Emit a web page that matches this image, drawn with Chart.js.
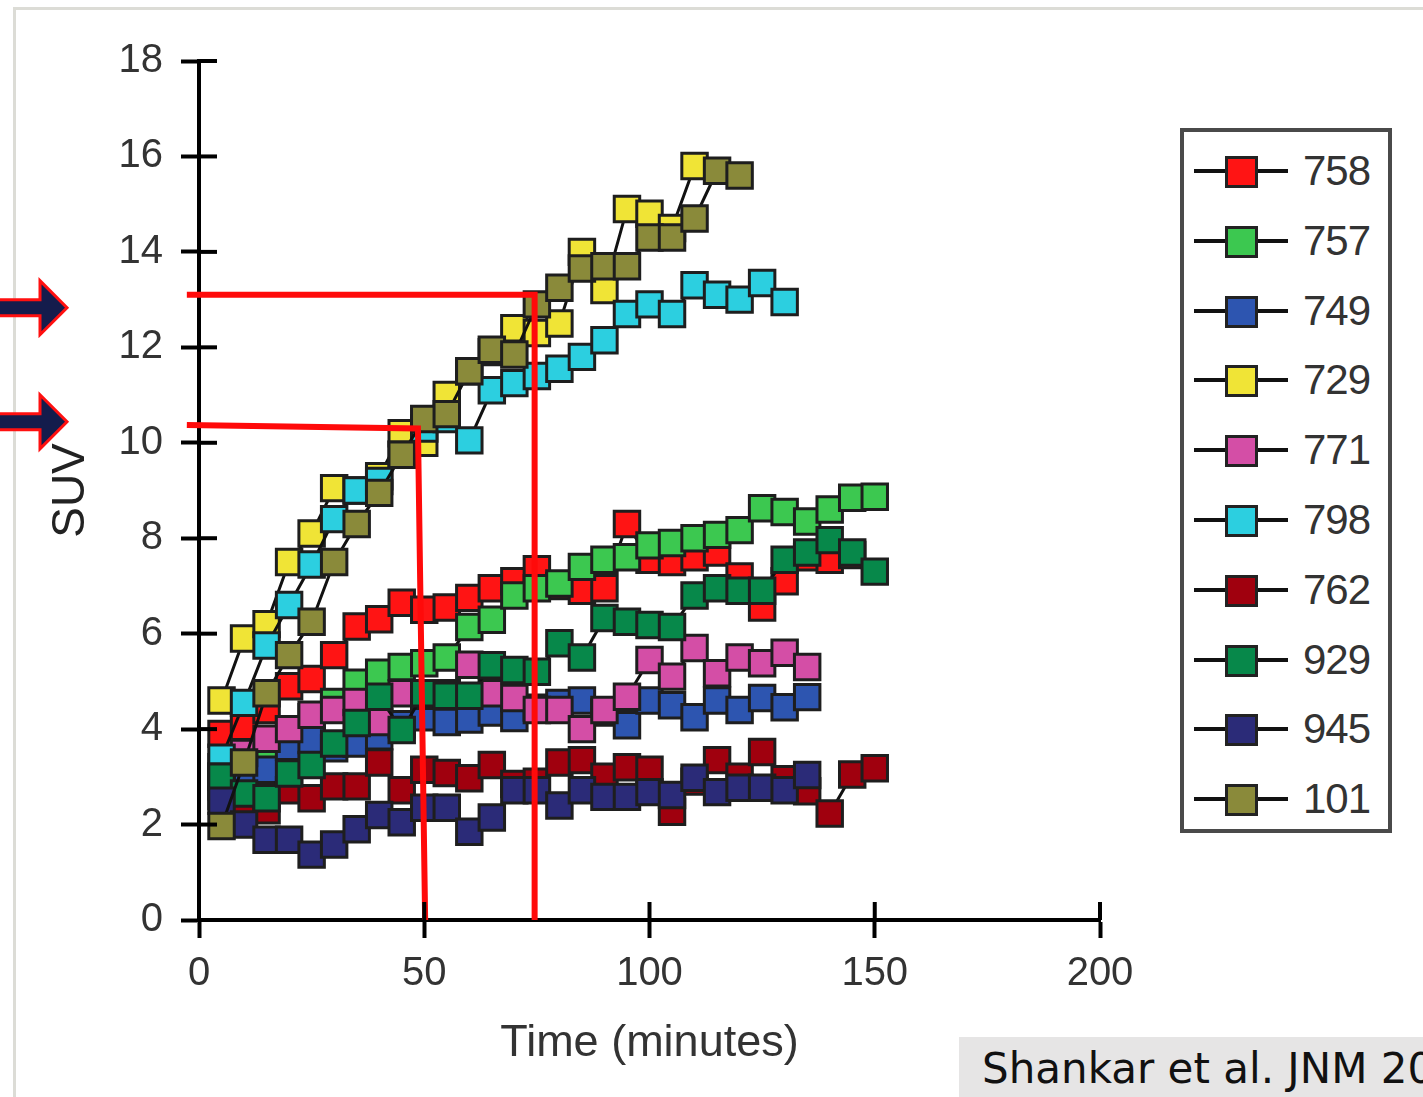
<!DOCTYPE html>
<html>
<head>
<meta charset="utf-8">
<script src="https://cdn.jsdelivr.net/npm/chart.js@4/dist/chart.umd.min.js"></script>
<style>
  html, body { margin: 0; padding: 0; background: #fff; }
  body { width: 1423px; height: 1097px; position: relative; overflow: hidden; font-family: 'Liberation Sans', Arial, sans-serif; }
  #frame { position: absolute; left: 13px; top: 7px; right: -10px; bottom: -10px; border-top: 3px solid #dcdcd6; border-left: 3px solid #dcdcd6; }
  #wrap { position: absolute; left: 0; top: 0; width: 1423px; height: 1097px; }
  #legend { position: absolute; left: 1180px; top: 128px; width: 204px; height: 697px; border: 4px solid #4a4a4a; background: #fff; }
  .item { position: absolute; left: 0; width: 204px; height: 40px; }
  .item .ln { position: absolute; left: 10px; top: 18px; width: 94px; height: 4px; background: #111; }
  .item .mk { position: absolute; left: 41px; top: 5px; width: 27px; height: 26px; border: 3px solid #222; }
  .item .tx { position: absolute; left: 119px; top: -4px; font-size: 42px; color: #333; letter-spacing: -1px; }
  #source { position: absolute; left: 959px; top: 1037px; width: 480px; height: 70px; background: #e6e5e5; overflow: hidden; }
  #source span { position: absolute; left: 23px; top: 7px; font-family: 'DejaVu Sans', sans-serif; font-size: 42px; color: #111; white-space: nowrap; }
</style>
</head>
<body>
<div id="frame"></div>
<div id="wrap"><canvas id="chart"></canvas></div>
<div id="legend"></div>
<div id="source"><span>Shankar et al. JNM 20</span></div>
<script>
const minutes = [5, 10, 15, 20, 25, 30, 35, 40, 45, 50, 55, 60, 65, 70, 75, 80, 85, 90, 95, 100, 105, 110, 115, 120, 125, 130, 135, 140, 145, 150];
const xTicks = [0, 50, 100, 150, 200];
const yTicks = [0, 2, 4, 6, 8, 10, 12, 14, 16, 18];

const names = ['758', '757', '749', '729', '771', '798', '762', '929', '945', '101'];
const fills = ['#ff1414', '#3cc850', '#2d55b0', '#f0e436', '#d44ea6', '#2ccfe0', '#a0000e', '#07884a', '#2b2b78', '#8a8a3a'];

const suv758 = [3.9, 4.05, 4.4, 4.9, 5.05, 5.55, 6.15, 6.3, 6.65, 6.5, 6.55, 6.75, 6.95, 7.1, 7.35, 7.0, 6.9, 6.95, 8.3, 7.55, 7.5, 7.6, 7.7, 7.2, 6.55, 7.1, 7.6, 7.55, 7.65];
const suv757 = [2.8, 3.2, 3.6, 4.0, 4.25, 4.57, 4.97, 5.18, 5.3, 5.38, 5.5, 6.14, 6.29, 6.8, 6.95, 7.05, 7.4, 7.55, 7.6, 7.85, 7.9, 8.0, 8.07, 8.17, 8.63, 8.55, 8.35, 8.6, 8.85, 8.87];
const suv749 = [2.6, 3.1, 3.15, 3.63, 3.77, 3.6, 3.7, 3.85, 4.1, 4.25, 4.15, 4.2, 4.35, 4.23, 4.45, 4.55, 4.6, 4.35, 4.08, 4.6, 4.5, 4.25, 4.6, 4.4, 4.65, 4.46, 4.67];
const suv729 = [4.6, 5.9, 6.2, 7.5, 8.1, 9.05, 9.0, 9.3, 10.2, 10.0, 11.0, 11.5, 11.9, 12.4, 12.3, 12.5, 14.0, 13.2, 14.9, 14.8, 14.5, 15.8];
const suv771 = [3.2, 3.5, 3.8, 4.0, 4.3, 4.4, 4.57, 4.15, 4.75, 4.7, 4.75, 5.35, 4.75, 4.65, 4.4, 4.4, 4.0, 4.4, 4.68, 5.45, 5.1, 5.7, 5.17, 5.5, 5.38, 5.6, 5.3];
const suv798 = [3.4, 4.55, 5.75, 6.6, 7.45, 8.4, 9.0, 9.2, 9.75, 10.3, 10.5, 10.05, 11.1, 11.25, 11.4, 11.55, 11.8, 12.15, 12.7, 12.9, 12.7, 13.3, 13.1, 13.0, 13.35, 12.95];
const suv762 = [3.0, 2.5, 2.3, 2.72, 2.55, 2.8, 2.8, 3.3, 2.72, 3.15, 3.08, 2.97, 3.25, 2.85, 2.9, 3.3, 3.35, 3.0, 3.2, 3.15, 2.27, 2.9, 3.35, 3.0, 3.52, 2.95, 2.7, 2.23, 3.05, 3.18];
const suv929 = [3.0, 2.65, 2.55, 3.07, 3.25, 3.7, 4.13, 4.68, 3.98, 4.75, 4.7, 4.7, 5.34, 5.24, 5.2, 5.8, 5.5, 6.33, 6.25, 6.18, 6.14, 6.8, 6.95, 6.9, 6.9, 7.55, 7.7, 7.96, 7.7, 7.3];
const suv945 = [2.5, 2.0, 1.68, 1.68, 1.37, 1.58, 1.9, 2.2, 2.05, 2.35, 2.35, 1.85, 2.15, 2.72, 2.72, 2.4, 2.72, 2.58, 2.58, 2.68, 2.62, 2.98, 2.68, 2.77, 2.77, 2.72, 3.04];
const suv101 = [1.97, 3.3, 4.75, 5.55, 6.25, 7.5, 8.3, 8.95, 9.75, 10.5, 10.6, 11.5, 11.95, 11.85, 12.9, 13.25, 13.65, 13.7, 13.7, 14.3, 14.3, 14.7, 15.7, 15.6];
const allSeries = [suv758, suv757, suv749, suv729, suv771, suv798, suv762, suv929, suv945, suv101];

// red reading guides drawn over the plot
const guideHighX = [-2.7, 74.5, 74.5];
const guideHighY = [13.1, 13.1, 0];
const guideLowX = [-2.7, 48.6, 50.2];
const guideLowY = [10.37, 10.3, 0];
// arrows pointing at the two read-off levels
const arrowLevels = [12.83, 10.44];

const font = { family: "'Liberation Sans', Arial, sans-serif", size: 40 };

function toPoints(xs, ys) {
  return ys.map((y, i) => ({ x: xs[i], y }));
}

const datasets = allSeries.map((values, i) => ({
  label: names[i],
  data: toPoints(minutes, values),
  borderColor: '#111',
  borderWidth: 3,
  pointStyle: 'rect',
  pointRadius: 18,
  pointBackgroundColor: fills[i],
  pointBorderColor: '#1e1e1e',
  pointBorderWidth: 3,
  order: 20 - i
}));

[[guideHighX, guideHighY], [guideLowX, guideLowY]].forEach(([xs, ys]) => {
  datasets.push({
    label: 'guide',
    data: toPoints(xs, ys),
    borderColor: '#ff0a0a',
    borderWidth: 6,
    pointRadius: 0,
    clip: false,
    order: 0
  });
});

const crossTicks = {
  id: 'crossTicks',
  afterDraw(chart) {
    const { ctx, chartArea, scales } = chart;
    ctx.save();
    ctx.strokeStyle = '#000';
    ctx.lineWidth = 4;
    yTicks.slice(1).forEach((v) => {
      const y = scales.y.getPixelForValue(v);
      ctx.beginPath();
      ctx.moveTo(chartArea.left, y);
      ctx.lineTo(chartArea.left + 18, y);
      ctx.stroke();
    });
    xTicks.slice(1).forEach((v) => {
      const x = scales.x.getPixelForValue(v);
      ctx.beginPath();
      ctx.moveTo(x, chartArea.bottom);
      ctx.lineTo(x, chartArea.bottom - 18);
      ctx.stroke();
    });
    // arrows on the far left
    arrowLevels.forEach((v) => {
      const y = scales.y.getPixelForValue(v);
      ctx.beginPath();
      ctx.moveTo(-4, y - 8);
      ctx.lineTo(40, y - 8);
      ctx.lineTo(40, y - 27);
      ctx.lineTo(67, y);
      ctx.lineTo(40, y + 27);
      ctx.lineTo(40, y + 8);
      ctx.lineTo(-4, y + 8);
      ctx.closePath();
      ctx.fillStyle = '#141c4c';
      ctx.fill();
      ctx.lineWidth = 3;
      ctx.strokeStyle = '#ff1010';
      ctx.stroke();
    });
    ctx.restore();
  }
};

new Chart(document.getElementById('chart'), {
  type: 'line',
  data: { datasets },
  options: {
    responsive: true,
    maintainAspectRatio: false,
    animation: false,
    events: [],
    layout: { padding: { left: 0, top: 61, right: 323, bottom: 0 } },
    plugins: { legend: { display: false }, tooltip: { enabled: false } },
    scales: {
      x: {
        type: 'linear',
        min: 0,
        max: 200,
        afterBuildTicks: (scale) => { scale.ticks = xTicks.map((value) => ({ value })); },
        afterFit: (scale) => { scale.height = 177; },
        grid: { drawOnChartArea: false, drawTicks: true, tickLength: 18, tickWidth: 4, tickColor: '#000' },
        border: { display: true, color: '#000', width: 4 },
        ticks: { color: '#333', font, padding: 12 },
        title: { display: true, text: 'Time (minutes)', color: '#333', font: { family: font.family, size: 45 }, padding: { top: 0, bottom: 26 } }
      },
      y: {
        min: 0,
        max: 18,
        afterBuildTicks: (scale) => { scale.ticks = yTicks.map((value) => ({ value })); },
        afterFit: (scale) => { scale.width = 199; },
        grid: { drawOnChartArea: false, drawTicks: true, tickLength: 18, tickWidth: 4, tickColor: '#000' },
        border: { display: true, color: '#000', width: 4 },
        ticks: { color: '#333', font, padding: 18 },
        title: { display: true, text: 'SUV', color: '#222', font: { family: font.family, size: 46 }, padding: { top: 44, bottom: 0 } }
      }
    }
  },
  plugins: [crossTicks]
});

const legend = document.getElementById('legend');
legend.innerHTML = names
  .map(
    (name, i) => `
      <div class="item" style="top:${19 + i * 69.8}px">
        <div class="ln"></div>
        <div class="mk" style="background:${fills[i]}"></div>
        <div class="tx">${name}</div>
      </div>
    `
  )
  .join('');
</script>
</body>
</html>
